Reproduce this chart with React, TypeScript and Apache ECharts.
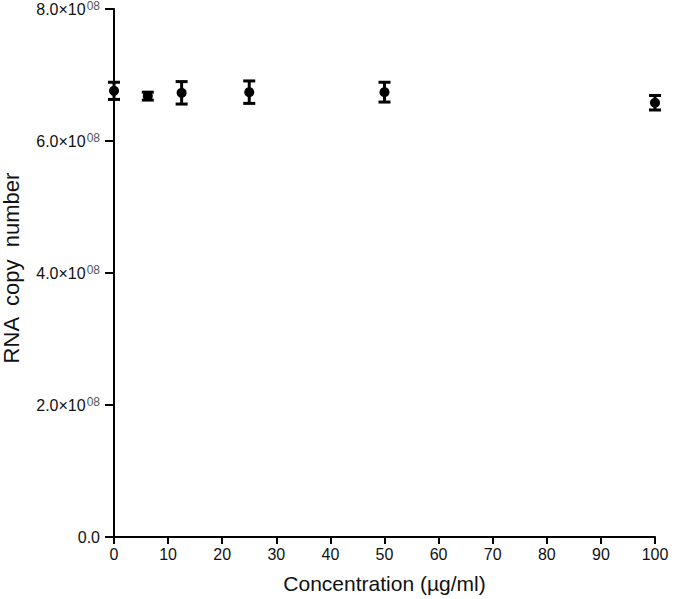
import React, { useEffect, useRef } from "react";
import * as echarts from "echarts";

const concentrations = [0, 6.25, 12.5, 25, 50, 100];
const meanCopies = [6.76e8, 6.68e8, 6.73e8, 6.74e8, 6.74e8, 6.58e8];
const errCopies = [0.13e8, 0.06e8, 0.17e8, 0.17e8, 0.15e8, 0.11e8];
const xTicks = [0, 10, 20, 30, 40, 50, 60, 70, 80, 90, 100];
const yTicks = [0, 2e8, 4e8, 6e8, 8e8];

export default function App() {
  const ref = useRef<HTMLDivElement>(null);
  useEffect(() => {
    if (!ref.current) return;
    const chart = echarts.init(ref.current, undefined, { renderer: "svg" });
    const font = "Liberation Sans";
    const points = concentrations.map((c, i) => [c, meanCopies[i]]);
    const bars = concentrations.map((c, i) => [c, meanCopies[i] - errCopies[i], meanCopies[i] + errCopies[i]]);
    chart.setOption({
      animation: false,
      backgroundColor: "#fff",
      textStyle: { fontFamily: font },
      grid: { left: 114, right: 20, top: 9, bottom: 62, outerBoundsMode: "none" },
      xAxis: {
        type: "value",
        min: xTicks[0],
        max: xTicks[xTicks.length - 1],
        interval: 10,
        name: "Concentration (µg/ml)",
        nameLocation: "middle",
        nameGap: 36,
        nameTextStyle: { fontFamily: font, fontSize: 21, color: "#111" },
        axisLine: { onZero: false, lineStyle: { color: "#000", width: 2 } },
        axisTick: { show: true, length: 7, lineStyle: { color: "#000", width: 2 } },
        axisLabel: { fontFamily: font, fontSize: 16, color: "#111", margin: 9 },
        splitLine: { show: false },
      },
      yAxis: {
        type: "value",
        min: yTicks[0],
        max: yTicks[yTicks.length - 1],
        interval: 2e8,
        name: "RNA  copy  number",
        nameLocation: "middle",
        nameGap: 92,
        nameMoveOverlap: false,
        nameTextStyle: { fontFamily: font, fontSize: 22, color: "#111", padding: [0, 0, 0, 10] },
        axisLine: { lineStyle: { color: "#000", width: 2 } },
        axisTick: { show: true, length: 9, lineStyle: { color: "#000", width: 2 } },
        axisLabel: {
          fontFamily: font,
          fontSize: 16,
          color: "#111",
          margin: 14,
          hideOverlap: false,
          formatter: (v: number) =>
            v === 0 ? "{b|0.0}" : `{b|${(v / 1e8).toFixed(1)}×10}{sup|08}`,
          rich: {
            b: { fontSize: 16, color: "#111", fontFamily: font, lineHeight: 20 },
            sup: { fontSize: 12, color: "#555", fontFamily: font, lineHeight: 20, padding: [0, 0, 7, 1] },
          },
        },
        splitLine: { show: false },
      },
      series: [
        {
          type: "custom",
          data: bars,
          renderItem: (params: any, api: any) => {
            const x = api.value(0);
            const lo = api.coord([x, api.value(1)]);
            const hi = api.coord([x, api.value(2)]);
            const hw = 6;
            const style = { stroke: "#000", lineWidth: 3, fill: "none" };
            return {
              type: "group",
              children: [
                { type: "line", shape: { x1: lo[0], y1: lo[1], x2: hi[0], y2: hi[1] }, style },
                { type: "line", shape: { x1: lo[0] - hw, y1: lo[1], x2: lo[0] + hw, y2: lo[1] }, style },
                { type: "line", shape: { x1: hi[0] - hw, y1: hi[1], x2: hi[0] + hw, y2: hi[1] }, style },
              ],
            };
          },
          z: 3,
        },
        {
          type: "scatter",
          data: points,
          symbol: "circle",
          symbolSize: 10,
          itemStyle: { color: "#000", opacity: 1 },
          z: 4,
        },
      ],
    });
    return () => chart.dispose();
  }, []);
  return <div ref={ref} style={{ width: 675, height: 599, position: "absolute", left: 0, top: 0 }} />;
}
